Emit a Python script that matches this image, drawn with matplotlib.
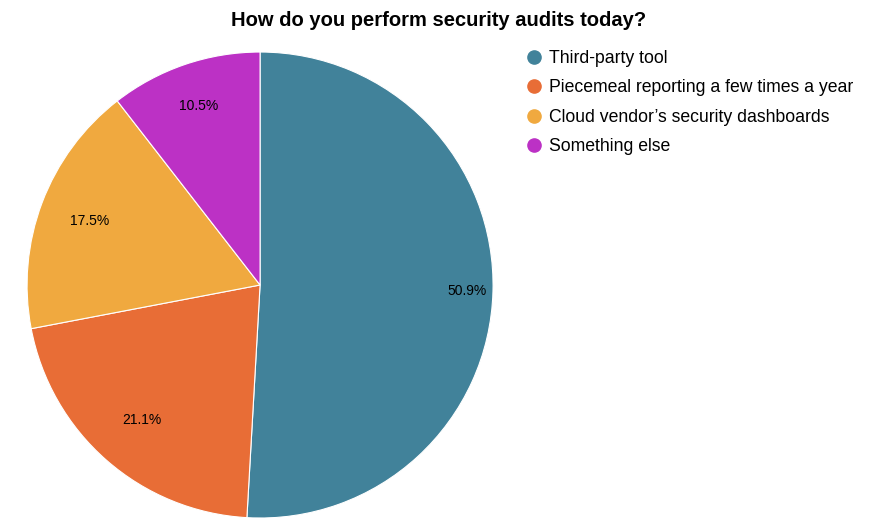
import matplotlib.pyplot as plt
import numpy as np
from matplotlib.lines import Line2D

plt.rcParams['font.family'] = ['Liberation Sans', 'DejaVu Sans']

labels = ['Third-party tool', 'Piecemeal reporting a few times a year',
          "Cloud vendor\u2019s security dashboards", 'Something else']
shares = [50.9, 21.1, 17.5, 10.5]
colors = ['#41829A', '#E86D36', '#F0A93F', '#BC31C5']
label_radius = [0.89, 0.77, 0.78, 0.81]

fig = plt.figure(figsize=(8.78, 5.25), dpi=100)
ax = fig.add_axes([0.0308, 0.0133, 0.5308, 0.8876])

wedges, _, autotexts = ax.pie(shares, colors=colors, startangle=90, counterclock=False,
                              autopct='%.1f%%', pctdistance=0.8,
                              wedgeprops=dict(edgecolor='white', linewidth=0.8),
                              textprops=dict(fontsize=10, color='black'))
for w, t, r in zip(wedges, autotexts, label_radius):
    mid = np.deg2rad((w.theta1 + w.theta2) / 2)
    t.set_position((r * np.cos(mid), r * np.sin(mid)))
ax.set_xlim(-1, 1)
ax.set_ylim(-1, 1)
ax.set_aspect('equal')

fig.suptitle('How do you perform security audits today?', x=0.5, y=0.98,
             fontsize=14.5, fontweight='bold')

handles = [Line2D([], [], marker='o', linestyle='none', markersize=9.5,
                  markerfacecolor=c, markeredgecolor=c) for c in colors]
fig.legend(handles, labels, loc='upper left', bbox_to_anchor=(0.5915, 0.918),
           frameon=False, fontsize=12.7, handletextpad=0.4, labelspacing=0.7,
           handlelength=0.9, borderaxespad=0)

fig.savefig('out.png', dpi=100)
